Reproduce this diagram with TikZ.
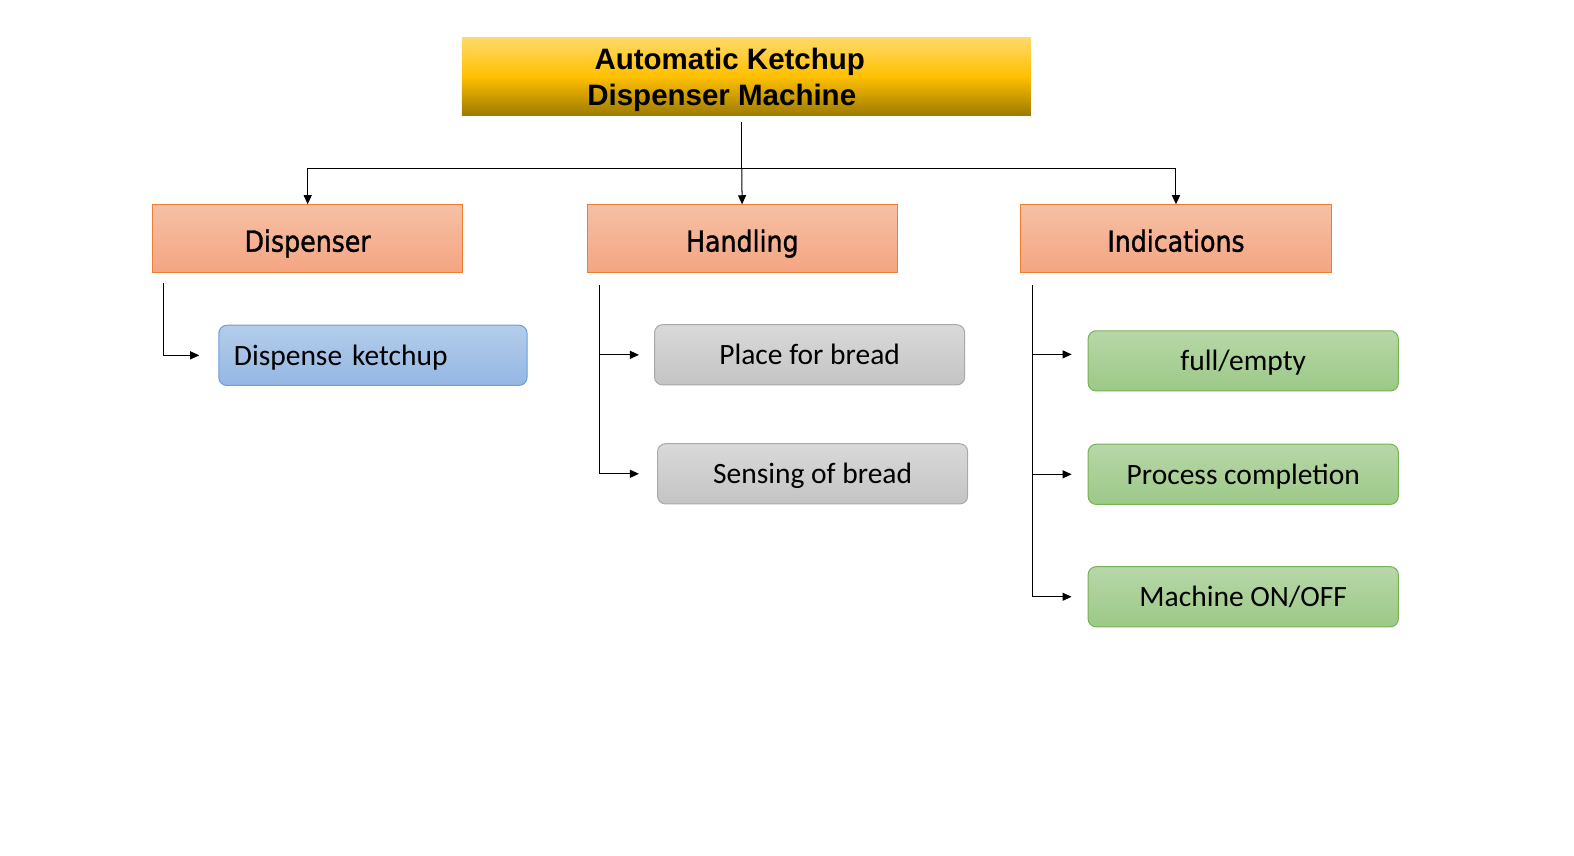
\documentclass[tikz,border=0pt]{standalone}
\usepackage{fontspec}
\setmainfont{Carlito}
\newfontfamily\titlefont{Liberation Sans}
\newfontfamily\catfont[FakeStretch=0.87,FakeBold=1.2]{DejaVu Sans}
\usetikzlibrary{arrows.meta}
\definecolor{titletop}{HTML}{FFDA6A}
\definecolor{titlemid}{HTML}{FFC000}
\definecolor{titlebot}{HTML}{9E7A00}
\definecolor{cattop}{HTML}{F6C0A5}
\definecolor{catbot}{HTML}{F4A582}
\definecolor{catborder}{HTML}{ED7D31}
\definecolor{bluetop}{HTML}{B4CDEB}
\definecolor{bluebot}{HTML}{94B7E3}
\definecolor{blueborder}{HTML}{6A9FD8}
\definecolor{graytop}{HTML}{D9D9D9}
\definecolor{graybot}{HTML}{C4C4C4}
\definecolor{grayborder}{HTML}{A9A9A9}
\definecolor{greentop}{HTML}{B7D7A8}
\definecolor{greenbot}{HTML}{9CC987}
\definecolor{greenborder}{HTML}{77B255}
\newcommand\pxu[1]{#1*1.0038pt}
\tikzset{
  titlebox/.style={inner sep=0pt, minimum width=\pxu{567}, minimum height=\pxu{78},
    top color=titletop, bottom color=titlebot, middle color=titlemid},
  titletxt/.style={inner sep=0pt, align=center,
    font=\titlefont\bfseries\fontsize{29.5}{36.7}\selectfont},
  catbox/.style={draw=catborder, line width=1pt, top color=cattop, bottom color=catbot,
    minimum width=\pxu{309}, minimum height=0pt, inner sep=0pt,
    text height=\pxu{46.7}, text depth=\pxu{20.3},
    font=\catfont\fontsize{29}{34}\selectfont},
  subbox/.style={rounded corners=\pxu{8}, line width=1pt, inner sep=0pt,
    minimum width=\pxu{309}, minimum height=0pt,
    text height=\pxu{40}, text depth=\pxu{20},
    font=\fontsize{29.5}{35}\selectfont},
  bluebox/.style={subbox, draw=blueborder, top color=bluetop, bottom color=bluebot,
    minimum width=\pxu{307}, text width=\pxu{277}, inner xsep=\pxu{15}, align=left},
  graybox/.style={subbox, draw=grayborder, top color=graytop, bottom color=graybot},
  greenbox/.style={subbox, draw=greenborder, top color=greentop, bottom color=greenbot},
  ln/.style={line width=\pxu{1}, draw=black},
  arr/.style={ln, -{Triangle[length=\pxu{9},width=\pxu{8}]}}
}
\begin{document}
\begin{tikzpicture}[x=1.0038pt, y=-1.0038pt]
\fill[white] (0,0) rectangle (1568,852);
\useasboundingbox (0,0) rectangle (1568,852);

% title
\node[titlebox] (title) at (743.5,76) {};
\node[titletxt] (titletext) at (723,79.5) {\hspace*{8pt}Automatic Ketchup\\Dispenser Machine\hspace*{8pt}};

% categories
\node[catbox] (disp)  at (306.5,237.5) {Dispenser};
\node[catbox] (hand)  at (739.5,237.5) {Handling};
\node[catbox] (indic) at (1171.5,237.5) {Indications};

% sub boxes
\node[bluebox] (ketchup) at (371.5,354) {Dispense ketchup};
\node[graybox] (place)   at (806.5,353.5) {Place for bread};
\node[graybox] (sensing) at (809.5,472) {Sensing of bread};
\node[greenbox] (full)   at (1238.5,359.5) {full/empty};
\node[greenbox] (proc)   at (1238.5,472.5) {Process completion};
\node[greenbox] (onoff)  at (1238.5,594.5) {Machine ON/OFF};

% top connectors
\coordinate (stem) at (739,122);
\coordinate (hub) at (739,168);
\draw[ln] (stem) -- (hub);
\draw[arr] (hub) -| (disp);
\draw[arr] (hub) -- (hand);
\draw[arr] (hub) -| (indic);

% dispenser
\coordinate (dv) at (163,282);
\draw[arr, shorten >=\pxu{19}] (dv) |- (ketchup);

% handling
\coordinate (hv) at (597,284);
\draw[arr, shorten >=\pxu{15}] (hv) |- (place);
\draw[arr, shorten >=\pxu{18}] (hv) |- (sensing);

% indications
\coordinate (iv) at (1029,284);
\draw[arr, shorten >=\pxu{16}] (iv) |- ([yshift=6.5pt]full.west);
\draw[arr, shorten >=\pxu{16}] (iv) |- (proc);
\draw[arr, shorten >=\pxu{16}] (iv) |- (onoff);
\end{tikzpicture}
\end{document}
